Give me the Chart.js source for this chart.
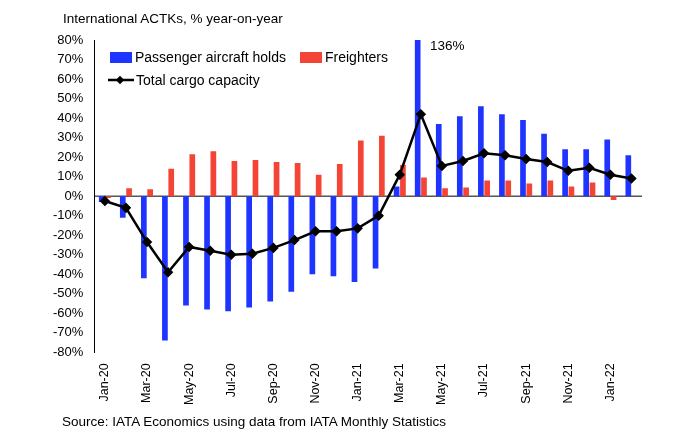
<!DOCTYPE html><html><head><meta charset="utf-8">
<script src="https://cdn.jsdelivr.net/npm/chart.js@4"></script>
<style>
body{margin:0;width:700px;height:446px;background:#fff;font-family:"Liberation Sans",Arial,sans-serif;position:relative;overflow:hidden}
#wrap{position:absolute;left:0;top:0;width:700px;height:446px}
.t{position:absolute;font-size:13.5px;color:#000;white-space:nowrap}
.lg{position:absolute;font-size:14px;display:flex;align-items:center}
.sw{display:inline-block;width:22px;height:11px;margin-right:3px}
</style></head><body>
<div id="wrap"><canvas id="c" width="700" height="446"></canvas></div>
<div class="t" style="left:63px;top:11px">International ACTKs, % year-on-year</div>
<div class="t" style="left:62px;top:414px">Source: IATA Economics using data from IATA Monthly Statistics</div>
<div class="t" style="left:430px;top:38px">136%</div>
<div class="lg" style="left:110px;top:49px"><span class="sw" style="background:#1f35ff"></span>Passenger aircraft holds</div>
<div class="lg" style="left:300px;top:49px"><span class="sw" style="background:#f44436"></span>Freighters</div>
<div class="lg" style="left:108px;top:72px"><svg width="26" height="12" style="margin-right:2px"><line x1="0" y1="6" x2="26" y2="6" stroke="#000" stroke-width="2.5"/><rect x="9" y="3" width="6" height="6" transform="rotate(45 12 6)" fill="#000"/></svg>Total cargo capacity</div>
<script>
const categories=["Jan-20","Feb-20","Mar-20","Apr-20","May-20","Jun-20","Jul-20","Aug-20","Sep-20","Oct-20","Nov-20","Dec-20","Jan-21","Feb-21","Mar-21","Apr-21","May-21","Jun-21","Jul-21","Aug-21","Sep-21","Oct-21","Nov-21","Dec-21","Jan-22","Feb-22"];
const passenger=[-3,-11,-42,-74,-56,-58,-59,-57,-54,-49,-40,-41,-44,-37,5,136,37,41,46,42,39,32,24,24,29,21];
const freighters=[-1,4,3.5,14,21.5,23,18,18.5,17.5,17,11,16.5,28.5,31,16,9.5,4,4.5,8,8,6.5,8,5,7,-2,0];
const total=[-2.5,-6,-23.5,-39,-26,-28,-30,-29.5,-26.5,-22.5,-18,-18,-16.5,-10,11,42,15.5,18,22,21,19,17.5,13,14.5,11,9];
const yTicks=[-80,-70,-60,-50,-40,-30,-20,-10,0,10,20,30,40,50,60,70,80];
new Chart(document.getElementById('c'),{
 data:{labels:categories,datasets:[
  {type:'line',data:total,borderColor:'#000',backgroundColor:'#000',borderWidth:2.5,pointStyle:'rectRot',pointRadius:3.5,tension:0,order:0},
  {type:'bar',data:passenger,backgroundColor:'#1f35ff',order:1,barPercentage:0.9,categoryPercentage:0.6},
  {type:'bar',data:freighters,backgroundColor:'#f44436',order:2,barPercentage:0.9,categoryPercentage:0.6}
 ]},
 options:{responsive:false,animation:false,layout:{padding:{left:50,right:58,top:40,bottom:38}},
  plugins:{legend:{display:false},tooltip:{enabled:false}},
  scales:{
   x:{grid:{display:false},border:{display:false},ticks:{autoSkip:false,maxRotation:90,minRotation:90,color:'#000',font:{size:12.5,family:'Liberation Sans'},callback:(v,i)=>i%2===0?categories[i]:''}},
   y:{min:-80,max:80,afterBuildTicks:a=>{a.ticks=yTicks.map(v=>({value:v}))},grid:{display:false},border:{color:'#000'},ticks:{color:'#000',font:{size:13,family:'Liberation Sans'},callback:v=>v+'%'}}
  }},
 plugins:[{id:'zero',beforeDatasetsDraw(ch){const c=ch.ctx,y=ch.scales.y.getPixelForValue(0);c.save();c.strokeStyle='#000';c.lineWidth=1;c.beginPath();c.moveTo(ch.chartArea.left,y);c.lineTo(ch.chartArea.right,y);c.stroke();c.restore();}}]
});
</script></body></html>
